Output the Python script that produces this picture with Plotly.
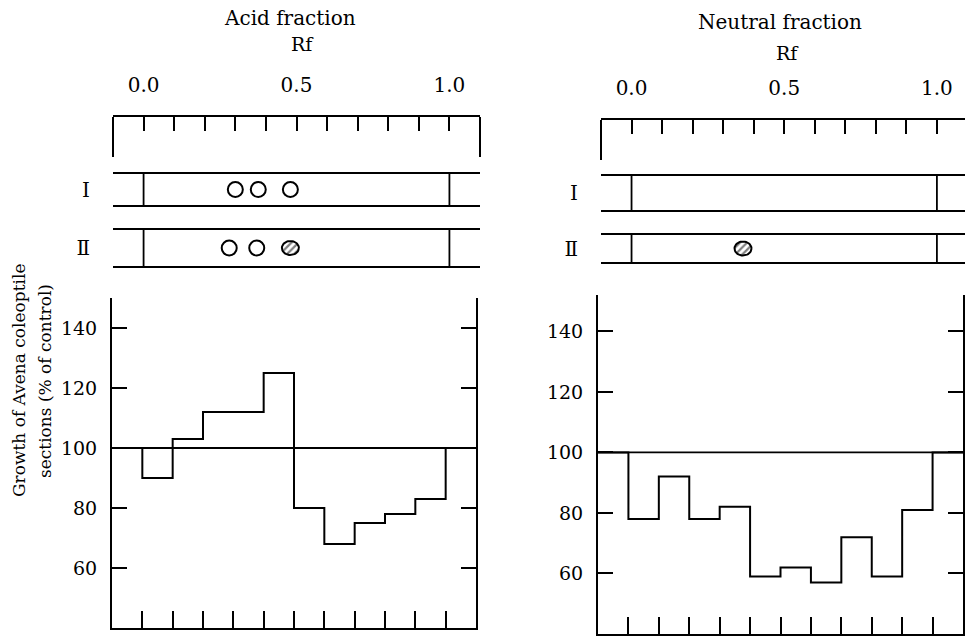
import numpy as np
import plotly.graph_objects as go

# ---------------------------------------------------------------- data
# Rf bin edges: twelve 0.1-wide bins from -0.1 to 1.1
rf_edges = [-0.1, 0.0, 0.1, 0.2, 0.3, 0.4, 0.5, 0.6, 0.7, 0.8, 0.9, 1.0, 1.1]
# growth of Avena coleoptile sections (% of control) for each Rf bin
acid_growth = [100, 90, 103, 112, 112, 125, 80, 68, 75, 78, 83, 100]
neutral_growth = [100, 78, 92, 78, 82, 59, 62, 57, 72, 59, 81, 100]
control_level = 100

growth_ticks = [60, 80, 100, 120, 140]
rf_ticks = [0.0, 0.1, 0.2, 0.3, 0.4, 0.5, 0.6, 0.7, 0.8, 0.9, 1.0]
rf_tick_labels = ["0.0", "", "", "", "", "0.5", "", "", "", "", "1.0"]

# chromatogram strips and the spots found on them
strip_rows = [1, 2]
strip_labels = ["I", "Ⅱ"]
acid_open_row = [1, 1, 1, 2, 2]
acid_open_rf = [0.30, 0.375, 0.48, 0.28, 0.37]
acid_hatched_row = [2]
acid_hatched_rf = [0.48]
neutral_open_row = []
neutral_open_rf = []
neutral_hatched_row = [2]
neutral_hatched_rf = [0.365]

# ---------------------------------------------------------------- layout
W, H = 965, 638
FONT = "DejaVu Serif"


def px_x(p):
    return p / W


def px_y(p):
    return 1 - p / H


panels = [
    dict(
        title="Acid fraction", title_xy=(290, 18), rf_xy=(302, 44),
        hist_x=(112, 476), hist_y=(298, 628), hist_range=(40, 150),
        top_x=(113, 480), top_y=(117, 275), top_range=(-0.1, 1.1),
        strips_px=[(173, 206), (229, 267)], right_end=True,
        growth=acid_growth,
        open_row=acid_open_row, open_rf=acid_open_rf,
        hatched_row=acid_hatched_row, hatched_rf=acid_hatched_rf,
    ),
    dict(
        title="Neutral fraction", title_xy=(780, 22), rf_xy=(787, 53),
        hist_x=(598, 963), hist_y=(295, 634), hist_range=(40, 152),
        top_x=(601, 965), top_y=(120, 275), top_range=(-0.1, 1.092),
        strips_px=[(175, 211), (234, 263)], right_end=False,
        growth=neutral_growth,
        open_row=neutral_open_row, open_rf=neutral_open_rf,
        hatched_row=neutral_hatched_row, hatched_rf=neutral_hatched_rf,
    ),
]

fig = go.Figure()
layout = dict(
    width=W, height=H, margin=dict(l=0, r=0, t=0, b=0),
    paper_bgcolor="white", plot_bgcolor="rgba(0,0,0,0)",
    showlegend=False, font=dict(family=FONT, color="black", size=18),
)
shapes, annotations = [], []

for i, p in enumerate(panels):
    hx, hy = 2 * i + 1, 2 * i + 1
    tx, ty = 2 * i + 2, 2 * i + 2
    hxn = "x" if hx == 1 else f"x{hx}"
    hyn = "y" if hy == 1 else f"y{hy}"
    txn, tyn = f"x{tx}", f"y{ty}"

    # --- growth histogram
    layout["xaxis" if hx == 1 else f"xaxis{hx}"] = dict(
        domain=[px_x(p["hist_x"][0]), px_x(p["hist_x"][1])],
        range=[-0.1, 1.1], anchor=hyn,
        showline=True, linewidth=2, linecolor="black", mirror=False,
        ticks="inside", ticklen=17, tickwidth=2, tickcolor="black",
        tickvals=rf_ticks, showticklabels=False,
        showgrid=False, zeroline=False, fixedrange=True,
    )
    layout["yaxis" if hy == 1 else f"yaxis{hy}"] = dict(
        domain=[px_y(p["hist_y"][1]), px_y(p["hist_y"][0])],
        range=list(p["hist_range"]), anchor=hxn,
        showline=True, linewidth=2, linecolor="black", mirror="ticks",
        ticks="inside", ticklen=15, tickwidth=2, tickcolor="black",
        tickvals=growth_ticks, ticklabelstandoff=9,
        tickfont=dict(family=FONT, size=19),
        showgrid=False, zeroline=False, fixedrange=True,
    )
    steps_y = list(p["growth"]) + [p["growth"][-1]]
    fig.add_trace(go.Scatter(
        x=rf_edges, y=steps_y, mode="lines", line_shape="hv",
        line=dict(color="black", width=2), xaxis=hxn, yaxis=hyn,
        hoverinfo="skip",
    ))
    shapes.append(dict(
        type="line", xref=f"{hxn} domain", yref=hyn,
        x0=0, x1=1, y0=control_level, y1=control_level,
        line=dict(color="black", width=1.8),
    ))

    # --- Rf ruler and chromatogram strips
    t0, t1 = p["top_y"]
    centers = [(a + b) / 2 for a, b in p["strips_px"]]
    px_per_row = centers[1] - centers[0]

    def row_val(pix, c0=centers[0], k=px_per_row):
        return 1 + (pix - c0) / k

    layout[f"xaxis{tx}"] = dict(
        domain=[px_x(p["top_x"][0]), px_x(p["top_x"][1])],
        range=list(p["top_range"]), anchor=tyn, side="top",
        showline=True, linewidth=2, linecolor="black",
        ticks="inside", ticklen=14, tickwidth=2, tickcolor="black",
        tickvals=rf_ticks, ticktext=rf_tick_labels, ticklabelstandoff=15,
        tickfont=dict(family=FONT, size=20),
        showgrid=False, zeroline=False, fixedrange=True,
    )
    layout[f"yaxis{ty}"] = dict(
        domain=[px_y(t1), px_y(t0)],
        range=[row_val(t1), row_val(t0)], anchor=txn,
        showline=False, ticks="", tickvals=strip_rows, ticktext=strip_labels,
        ticklabelstandoff=22, tickfont=dict(family=FONT, size=20),
        showgrid=False, zeroline=False, fixedrange=True,
    )

    # ruler end bars
    ends = [0, 1] if p["right_end"] else [0]
    for e in ends:
        shapes.append(dict(
            type="line", xref=f"{txn} domain", yref="paper",
            x0=e, x1=e, y0=px_y(t0), y1=px_y(t0 + 40),
            line=dict(color="black", width=2),
        ))
    # strip borders, origin and solvent-front marks
    for row, (a, b) in zip(strip_rows, p["strips_px"]):
        for edge in (a, b):
            shapes.append(dict(
                type="line", xref=f"{txn} domain", yref=tyn,
                x0=0, x1=1, y0=row_val(edge), y1=row_val(edge),
                line=dict(color="black", width=2),
            ))
        for rf in (0.0, 1.0):
            shapes.append(dict(
                type="line", xref=txn, yref=tyn,
                x0=rf, x1=rf, y0=row_val(a), y1=row_val(b),
                line=dict(color="black", width=1.8),
            ))

    # open spots
    if p["open_rf"]:
        fig.add_trace(go.Scatter(
            x=p["open_rf"], y=p["open_row"], mode="markers",
            marker=dict(symbol="circle-open", size=15, color="black",
                        line=dict(color="black", width=2)),
            xaxis=txn, yaxis=tyn, hoverinfo="skip",
        ))

    # hatched spots, drawn as filled ellipses with a diagonal pattern
    x_px_per_unit = (p["top_x"][1] - p["top_x"][0]) / (p["top_range"][1] - p["top_range"][0])
    rx, ry = 8.5 / x_px_per_unit, 7.0 / px_per_row
    theta = np.linspace(0, 2 * np.pi, 48)
    for rf, row in zip(p["hatched_rf"], p["hatched_row"]):
        fig.add_trace(go.Scatter(
            x=rf + rx * np.cos(theta), y=row + ry * np.sin(theta),
            mode="lines", fill="toself", fillcolor="white",
            fillpattern=dict(shape="/", fgcolor="black", bgcolor="white",
                             size=5, solidity=0.45),
            line=dict(color="black", width=2),
            xaxis=txn, yaxis=tyn, hoverinfo="skip",
        ))

    # titles
    annotations.append(dict(
        text=p["title"], x=px_x(p["title_xy"][0]), y=px_y(p["title_xy"][1]),
        xref="paper", yref="paper", showarrow=False,
        xanchor="center", yanchor="middle", font=dict(family=FONT, size=20),
    ))
    annotations.append(dict(
        text="Rf", x=px_x(p["rf_xy"][0]), y=px_y(p["rf_xy"][1]),
        xref="paper", yref="paper", showarrow=False,
        xanchor="center", yanchor="middle", font=dict(family=FONT, size=19),
    ))

# shared y-axis title
for text, xp in (("Growth of Avena coleoptile", 19), ("sections (% of control)", 45)):
    annotations.append(dict(
        text=text, x=px_x(xp), y=px_y(381), xref="paper", yref="paper",
        showarrow=False, textangle=-90, xanchor="center", yanchor="middle",
        font=dict(family=FONT, size=17),
    ))

layout["shapes"] = shapes
layout["annotations"] = annotations
fig.update_layout(**layout)
fig.write_html("out.html")
